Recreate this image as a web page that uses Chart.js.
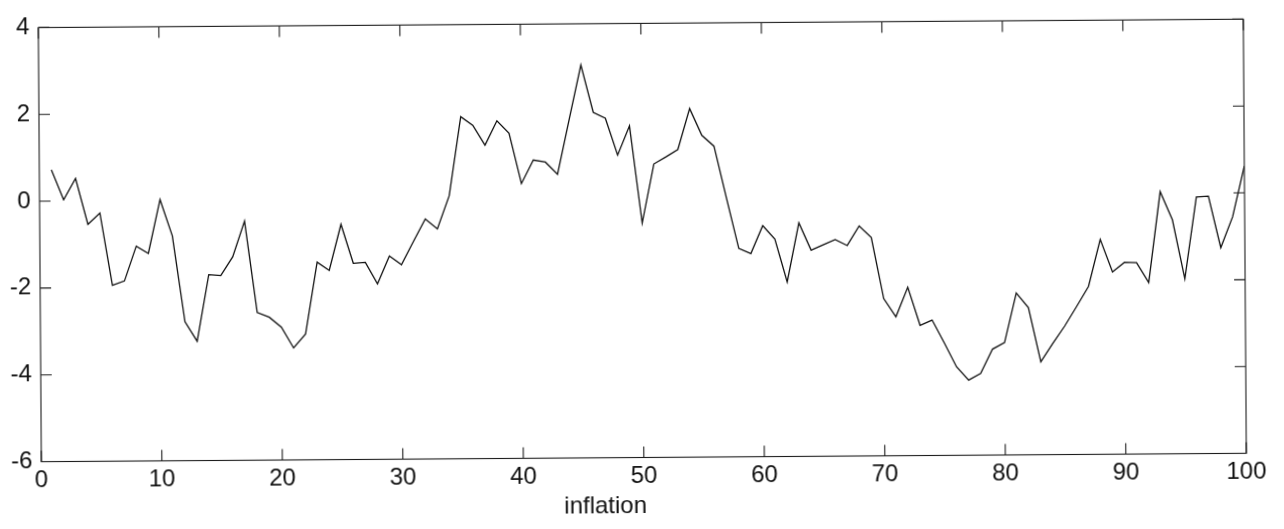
<!DOCTYPE html>
<html>
<head>
<meta charset="utf-8">
<script src="https://cdn.jsdelivr.net/npm/chart.js@4/dist/chart.umd.min.js"></script>
<style>
  html, body { margin: 0; padding: 0; background: #ffffff; }
  #wrap { width: 1284px; height: 529px; position: relative; overflow: hidden; background: #fff; }
  #c { display: block; transform: rotate(-0.4deg); transform-origin: 50% 50%; }
</style>
</head>
<body>
<div id="wrap"><canvas id="c" width="1284" height="529"></canvas></div>
<script>
// ---- data ----
const periods = [
  1, 2, 3, 4, 5, 6, 7, 8, 9, 10,
  11, 12, 13, 14, 15, 16, 17, 18, 19, 20,
  21, 22, 23, 24, 25, 26, 27, 28, 29, 30,
  31, 32, 33, 34, 35, 36, 37, 38, 39, 40,
  41, 42, 43, 44, 45, 46, 47, 48, 49, 50,
  51, 52, 53, 54, 55, 56, 57, 58, 59, 60,
  61, 62, 63, 64, 65, 66, 67, 68, 69, 70,
  71, 72, 73, 74, 75, 76, 77, 78, 79, 80,
  81, 82, 83, 84, 85, 86, 87, 88, 89, 90,
  91, 92, 93, 94, 95, 96, 97, 98, 99, 100
];
const inflation = [
  0.72, 0.03, 0.52, -0.54, -0.28, -1.95, -1.85, -1.05, -1.22, 0.02,
  -0.82, -2.80, -3.25, -1.72, -1.74, -1.31, -0.49, -2.60, -2.71, -2.94,
  -3.42, -3.10, -1.45, -1.64, -0.58, -1.48, -1.46, -1.96, -1.32, -1.52,
  -0.99, -0.47, -0.70, 0.06, 1.88, 1.68, 1.22, 1.78, 1.49, 0.33,
  0.87, 0.82, 0.54, 1.80, 3.05, 1.96, 1.82, 0.97, 1.64, -0.60,
  0.76, 0.92, 1.09, 2.03, 1.41, 1.16, -0.03, -1.20, -1.32, -0.68,
  -0.99, -1.98, -0.62, -1.25, -1.13, -1.01, -1.15, -0.70, -0.97, -2.38,
  -2.80, -2.12, -3.00, -2.88, -3.41, -3.96, -4.27, -4.12, -3.56, -3.41,
  -2.27, -2.61, -3.86, -3.44, -3.04, -2.59, -2.13, -1.05, -1.80, -1.58,
  -1.59, -2.05, 0.04, -0.61, -1.97, -0.09, -0.07, -1.26, -0.55, 0.62
];
const xTickValues = [0, 10, 20, 30, 40, 50, 60, 70, 80, 90, 100];
const yTickValues = [-6, -4, -2, 0, 2, 4];
const xAxisTitle = 'inflation';

// ---- geometry / style ----
const FONT = '"Liberation Sans", Arial, Helvetica, sans-serif';
const AREA = { left: 40, right: 1245, top: 12, bottom: 457.5 };
const TICK_LEN = 11;

const points = periods.map((p, i) => ({ x: p, y: inflation[i] }));

const framePlugin = {
  id: 'frame',
  afterDraw(chart) {
    const { ctx, chartArea, scales } = chart;
    const { left, right, top, bottom } = chartArea;
    ctx.save();
    ctx.strokeStyle = '#1c1c1c';
    ctx.lineWidth = 1.1;
    ctx.strokeRect(left, top, right - left, bottom - top);
    ctx.beginPath();
    xTickValues.forEach(v => {
      const px = scales.x.getPixelForValue(v);
      ctx.moveTo(px, bottom); ctx.lineTo(px, bottom - TICK_LEN);
      ctx.moveTo(px, top); ctx.lineTo(px, top + TICK_LEN);
    });
    yTickValues.forEach(v => {
      const py = scales.y.getPixelForValue(v);
      ctx.moveTo(left, py); ctx.lineTo(left + TICK_LEN, py);
      ctx.moveTo(right, py); ctx.lineTo(right - TICK_LEN, py);
    });
    ctx.stroke();
    // x-axis title
    ctx.fillStyle = '#111';
    ctx.font = '24px ' + FONT;
    ctx.textAlign = 'center';
    ctx.textBaseline = 'alphabetic';
    const tx = scales.x.getPixelForValue(46.8);
    ctx.fillText(xAxisTitle, tx, 513);
    ctx.restore();
  }
};

new Chart(document.getElementById('c'), {
  type: 'line',
  data: {
    datasets: [{
      data: points,
      borderColor: '#111111',
      borderWidth: 1.3,
      pointRadius: 0,
      tension: 0,
      fill: false
    }]
  },
  options: {
    responsive: false,
    animation: false,
    devicePixelRatio: 1,
    layout: { padding: { left: 0, top: AREA.top, right: 1284 - AREA.right, bottom: 0 } },
    plugins: { legend: { display: false }, tooltip: { enabled: false }, title: { display: false } },
    scales: {
      x: {
        type: 'linear',
        min: 0, max: 100,
        afterFit(scale) { scale.height = 529 - AREA.bottom; },
        afterBuildTicks(scale) { scale.ticks = xTickValues.map(v => ({ value: v })); },
        grid: { display: false, drawTicks: false },
        border: { display: false },
        ticks: {
          color: '#111',
          font: { family: FONT, size: 24 },
          padding: 4,
          maxRotation: 0,
          autoSkip: false
        }
      },
      y: {
        type: 'linear',
        min: -6, max: 4,
        afterFit(scale) { scale.width = AREA.left; },
        afterBuildTicks(scale) { scale.ticks = yTickValues.map(v => ({ value: v })); },
        grid: { display: false, drawTicks: false },
        border: { display: false },
        ticks: {
          color: '#111',
          font: { family: FONT, size: 24 },
          padding: 9
        }
      }
    }
  },
  plugins: [framePlugin]
});
</script>
</body>
</html>
